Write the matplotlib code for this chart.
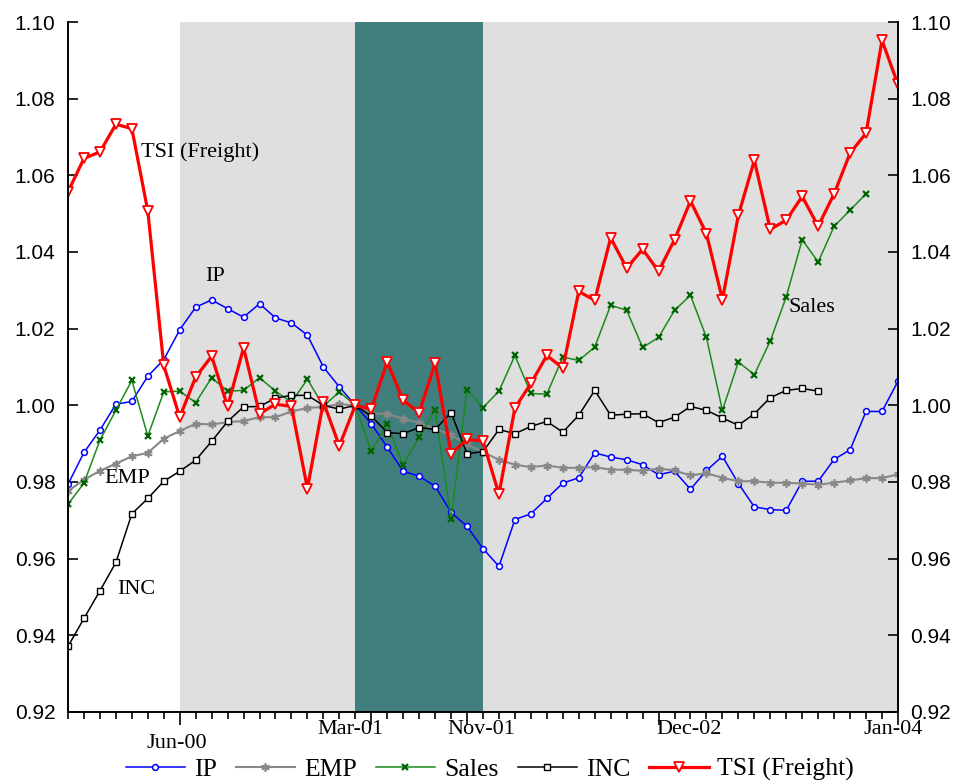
import numpy as np
import matplotlib
matplotlib.use("Agg")
import matplotlib.pyplot as plt

# monthly index, Sep-99 .. Jan-04 (Mar-01 = 1.00)
ip = [0.9794, 0.9877, 0.9935, 1.0003, 1.0010, 1.0076, 1.0119, 1.0197, 1.0256, 1.0275,
      1.0252, 1.0230, 1.0265, 1.0228, 1.0215, 1.0183, 1.0100, 1.0048, 1.0000, 0.9952,
      0.9891, 0.9828, 0.9815, 0.9789, 0.9721, 0.9684, 0.9626, 0.9580, 0.9702, 0.9717,
      0.9757, 0.9797, 0.9811, 0.9876, 0.9865, 0.9858, 0.9845, 0.9819, 0.9828, 0.9781,
      0.9830, 0.9867, 0.9796, 0.9735, 0.9728, 0.9726, 0.9802, 0.9802, 0.9859, 0.9884,
      0.9984, 0.9984, 1.0063]
emp = [0.9776, 0.9806, 0.9829, 0.9848, 0.9867, 0.9876, 0.9913, 0.9933, 0.9952, 0.9950,
       0.9956, 0.9959, 0.9969, 0.9969, 0.9984, 0.9993, 0.9996, 1.0003, 1.0000, 0.9978,
       0.9978, 0.9965, 0.9954, 0.9939, 0.9922, 0.9898, 0.9878, 0.9858, 0.9845, 0.9839,
       0.9843, 0.9837, 0.9837, 0.9839, 0.9832, 0.9832, 0.9829, 0.9835, 0.9830, 0.9817,
       0.9823, 0.9811, 0.9802, 0.9802, 0.9798, 0.9798, 0.9796, 0.9793, 0.9798, 0.9804,
       0.9810, 0.9810, 0.9820]
sales = [0.9742, 0.9797, 0.9909, 0.9987, 1.0065, 0.9920, 1.0035, 1.0037, 1.0007, 1.0072,
         1.0037, 1.0039, 1.0072, 1.0037, 1.0008, 1.0068, 0.9998, 1.0035, 1.0000, 0.9880,
         0.9950, 0.9845, 0.9917, 0.9989, 0.9703, 1.0041, 0.9994, 1.0037, 1.0130, 1.0031,
         1.0029, 1.0126, 1.0117, 1.0152, 1.0261, 1.0248, 1.0151, 1.0177, 1.0248, 1.0287,
         1.0177, 0.9987, 1.0113, 1.0080, 1.0168, 1.0283, 1.0432, 1.0374, 1.0467, 1.0509,
         1.0552]
inc = [0.9371, 0.9444, 0.9516, 0.9590, 0.9717, 0.9757, 0.9802, 0.9828, 0.9857, 0.9906,
       0.9958, 0.9996, 0.9997, 1.0019, 1.0026, 1.0026, 1.0000, 0.9990, 1.0000, 0.9972,
       0.9929, 0.9926, 0.9942, 0.9937, 0.9981, 0.9874, 0.9879, 0.9937, 0.9926, 0.9945,
       0.9958, 0.9930, 0.9974, 1.0039, 0.9974, 0.9977, 0.9978, 0.9955, 0.9969, 0.9997,
       0.9987, 0.9967, 0.9948, 0.9978, 1.0020, 1.0039, 1.0044, 1.0037]
tsi = [1.0557, 1.0644, 1.0661, 1.0733, 1.0722, 1.0507, 1.0104, 0.9969, 1.0074, 1.0128,
       0.9997, 1.0150, 0.9978, 1.0003, 0.9997, 0.9783, 1.0009, 0.9894, 1.0000, 0.9990,
       1.0113, 1.0013, 0.9981, 1.0110, 0.9874, 0.9911, 0.9907, 0.9768, 0.9993, 1.0057,
       1.0130, 1.0097, 1.0297, 1.0274, 1.0437, 1.0358, 1.0407, 1.0350, 1.0432, 1.0533,
       1.0448, 1.0276, 1.0496, 1.0639, 1.0459, 1.0483, 1.0545, 1.0467, 1.0552, 1.0658,
       1.0710, 1.0952, 1.0837]

n_months = 53
slowdown = (7, 52)    # light shading
recession = (18, 26)  # Mar-01 .. Nov-01
major_ticks = [7, 19, 25, 37, 52]
date_labels = ["Jun-00", "Mar-01", "Nov-01", "Dec-02", "Jan-04"]
label_pos = [6.83, 17.67, 25.88, 38.9, 51.7]
label_low = [True, False, False, False, False]

serif = ["Liberation Serif", "DejaVu Serif"]
sans = ["Liberation Sans", "DejaVu Sans"]

fig = plt.figure(figsize=(9.55, 7.83), dpi=100)
ax = fig.add_axes([0.0712, 0.0907, 0.8691, 0.8812])

ax.axvspan(*slowdown, color="#dfdfdf", lw=0, zorder=0)
ax.axvspan(*recession, color="#417e7e", lw=0, zorder=0)

x = np.arange(n_months)
ax.plot(x[:len(ip)], ip, color="#0000ff", lw=1.1, marker="o", ms=4.2,
        mfc="white", mec="#0000ff", mew=1.1, label="IP")
ax.plot(x[:len(emp)], emp, color="#888888", lw=1.5, marker=(6, 2, 0), ms=6,
        mec="#888888", mew=1.2, label="EMP")
ax.plot(x[:len(sales)], sales, color="#1a8a1a", lw=1.1, marker="x", ms=5,
        mec="#006400", mew=1.6, label="Sales")
ax.plot(x[:len(inc)], inc, color="black", lw=1.1, marker="s", ms=5,
        mfc="white", mec="black", mew=1.0, label="INC")
ax.plot(x[:len(tsi)], tsi, color="#ff0000", lw=2.3, marker="v", ms=7,
        mfc="white", mec="#ff0000", mew=1.3, label="TSI (Freight)")

ax.set_xlim(0, n_months - 1)
ax.set_ylim(0.92, 1.10)
yt = np.arange(0.92, 1.101, 0.02)
ax.set_yticks(yt)
ax.set_yticklabels(["%.2f" % v for v in yt], family=sans, fontsize=15)
ax.tick_params(axis="y", direction="in", length=7, width=1.2, pad=9,
               left=True, right=True, labelleft=True, labelright=True)

ax.set_xticks(major_ticks)
ax.set_xticks(x, minor=True)
ax.set_xticklabels([])
ax.tick_params(axis="x", which="major", direction="out", length=9, width=1.2)
ax.tick_params(axis="x", which="minor", direction="out", length=5, width=1.2)
for lab, pos, low in zip(date_labels, label_pos, label_low):
    ax.text(pos, -0.045 if low else -0.025, lab, transform=ax.get_xaxis_transform(),
            ha="center", va="center", family=serif, fontsize=16)

ax.spines["top"].set_visible(False)
for s in ["left", "right", "bottom"]:
    ax.spines[s].set_linewidth(1.4)

# series labels
ax.text(4.57, 1.0660, "TSI (Freight)", family=serif, fontsize=16, va="center")
ax.text(9.2, 1.0337, "IP", family=serif, fontsize=16, va="center", ha="center")
ax.text(3.7, 0.9810, "EMP", family=serif, fontsize=16, va="center", ha="center")
ax.text(4.26, 0.9520, "INC", family=serif, fontsize=16, va="center", ha="center")
ax.text(46.6, 1.0256, "Sales", family=serif, fontsize=16, va="center", ha="center")

fig.legend(loc="center", bbox_to_anchor=(0.513, 0.017), ncol=5, frameon=False,
           prop={"family": serif, "size": 18.5}, handlelength=2.3,
           handletextpad=0.35, columnspacing=0.75, borderaxespad=0)

fig.savefig("out.png", dpi=100)
